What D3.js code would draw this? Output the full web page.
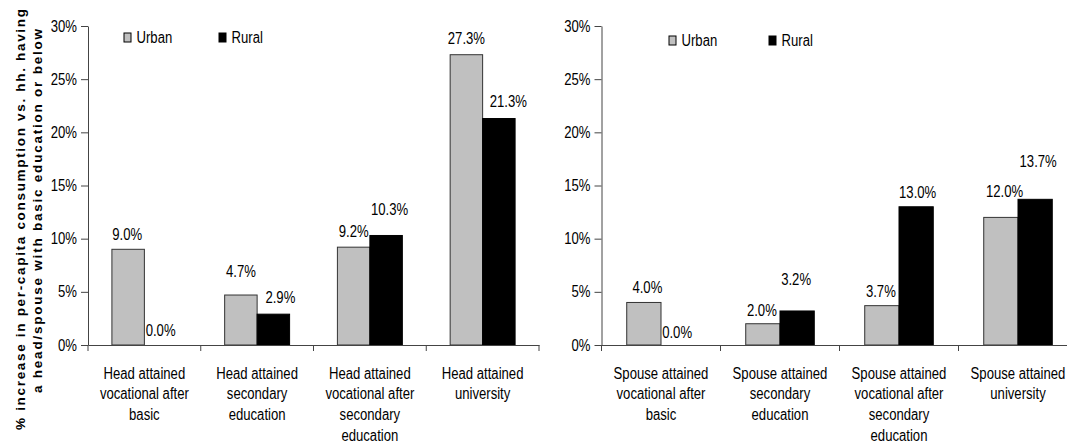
<!DOCTYPE html>
<html>
<head>
<meta charset="utf-8">
<script src="https://cdn.jsdelivr.net/npm/d3@7"></script>
<style>
  body { margin: 0; background: #fff; }
  svg { display: block; }
  text { font-family: "Liberation Sans", Arial, sans-serif; fill: #000; }
</style>
</head>
<body>
<svg id="chart"></svg>
<script>
// data
var series = ["Urban", "Rural"];
var headCats = [
  ["Head attained", "vocational after", "basic"],
  ["Head attained", "secondary", "education"],
  ["Head attained", "vocational after", "secondary", "education"],
  ["Head attained", "university"]
];
var spouseCats = [
  ["Spouse attained", "vocational after", "basic"],
  ["Spouse attained", "secondary", "education"],
  ["Spouse attained", "vocational after", "secondary", "education"],
  ["Spouse attained", "university"]
];
var headUrban = [9.0, 4.7, 9.2, 27.3];
var headRural = [0.0, 2.9, 10.3, 21.3];
var spouseUrban = [4.0, 2.0, 3.7, 12.0];
var spouseRural = [0.0, 3.2, 13.0, 13.7];
var yTicks = [0, 5, 10, 15, 20, 25, 30];
var yTitle = ["% increase in per-capita consumption vs. hh. having",
              "a head/spouse with basic education or below"];

// hand placed label nudges (dx, dy from bar centre / top), as in the original
var headUrbanNudge = [[-1, -9], [0, -18], [0, -10], [0, -11]];
var headRuralNudge = [[0, -9], [7, -11], [3.5, -20], [9.5, -12]];
var spouseUrbanNudge = [[3.5, -9], [-1, -8], [-1, -9], [3.7, -20]];
var spouseRuralNudge = [[-1, -7], [-1, -26], [1.5, -9], [3, -32]];

var screen = {width: 1067, height: 445};
var SX = 0.82; // the source chart is squeezed horizontally
var FS = 16;
var axisColor = "#444";

var svg = d3.select("#chart")
  .attr("width", screen.width)
  .attr("height", screen.height);

var yScale = d3.scaleLinear().domain([0, 30]).range([345, 26]);

var panels = [
  {left: 88, right: 539, cats: headCats, urban: headUrban, rural: headRural,
   un: headUrbanNudge, rn: headRuralNudge, legX: [124, 219], legY: 43},
  {left: 601.5, right: 1077.5, cats: spouseCats, urban: spouseUrban, rural: spouseRural,
   un: spouseUrbanNudge, rn: spouseRuralNudge, legX: [669, 769], legY: 46}
];

var cScale = d3.scaleOrdinal().domain(series).range(["#c0c0c0", "#000000"]);
var sScale = d3.scaleOrdinal().domain(series).range(["#333333", "#000000"]);

panels.forEach(function(p, pi) {
  var idx = d3.range(p.cats.length);
  var xBand = d3.scaleBand().domain(idx).range([p.left, p.right]).padding(0);
  var bw = xBand.bandwidth() * 0.288;
  var g = svg.append("g").attr("class", "panel" + pi);

  // y axis
  var yAxis = d3.axisLeft(yScale).tickValues(yTicks)
    .tickFormat(function(d) { return d + "%"; })
    .tickSize(7).tickSizeOuter(0).tickPadding(4);
  var ya = g.append("g")
    .attr("transform", "translate(" + p.left + ",0)")
    .call(yAxis);
  ya.select(".domain").attr("stroke", axisColor);
  ya.selectAll(".tick line").attr("stroke", axisColor);
  ya.selectAll(".tick text")
    .attr("font-size", FS)
    .attr("font-family", "Liberation Sans, Arial, sans-serif")
    .attr("x", -11 / SX)
    .attr("transform", "scale(" + SX + ",1)");

  // bars
  var rows = idx.map(function(i) {
    return [
      {s: "Urban", i: i, v: p.urban[i], n: p.un[i], x: xBand(i) + xBand.bandwidth() / 2 - bw},
      {s: "Rural", i: i, v: p.rural[i], n: p.rn[i], x: xBand(i) + xBand.bandwidth() / 2}
    ];
  });
  var bars = d3.merge(rows);

  g.selectAll("rect.bar")
    .data(bars.filter(function(d) { return d.v > 0; }))
    .enter()
    .append("rect")
    .attr("class", "bar")
    .attr("x", function(d) { return d.x; })
    .attr("y", function(d) { return yScale(d.v); })
    .attr("width", bw)
    .attr("height", function(d) { return yScale(0) - yScale(d.v); })
    .attr("fill", function(d) { return cScale(d.s); })
    .attr("stroke", function(d) { return sScale(d.s); })
    .attr("stroke-width", 1);

  // x axis line and category boundary ticks
  var xAxis = d3.axisBottom(xBand).tickSize(0).tickFormat("");
  var xa = g.append("g")
    .attr("transform", "translate(0," + yScale(0) + ")")
    .call(xAxis);
  xa.select(".domain").attr("stroke", axisColor);
  xa.selectAll(".tick").remove();
  g.selectAll("line.cattick")
    .data(idx.concat([idx.length]))
    .enter()
    .append("line")
    .attr("class", "cattick")
    .attr("x1", function(i) { return i < idx.length ? xBand(i) : p.right; })
    .attr("x2", function(i) { return i < idx.length ? xBand(i) : p.right; })
    .attr("y1", yScale(0))
    .attr("y2", yScale(0) + 6)
    .attr("stroke", axisColor);

  // category labels
  var cl = g.selectAll("text.cat")
    .data(idx)
    .enter()
    .append("text")
    .attr("class", "cat")
    .attr("text-anchor", "middle")
    .attr("font-size", FS)
    .attr("transform", function(i) {
      return "translate(" + (xBand(i) + xBand.bandwidth() / 2) + ",378.5) scale(" + SX + ",1)";
    });
  cl.selectAll("tspan")
    .data(function(i) { return p.cats[i]; })
    .enter()
    .append("tspan")
    .attr("x", 0)
    .attr("y", function(d, k) { return k * 21; })
    .text(function(d) { return d; });

  // value labels
  g.selectAll("text.val")
    .data(bars)
    .enter()
    .append("text")
    .attr("class", "val")
    .attr("text-anchor", "middle")
    .attr("font-size", FS)
    .attr("transform", function(d) {
      return "translate(" + (d.x + bw / 2 + d.n[0]) + "," + (yScale(d.v) + d.n[1]) + ") scale(" + SX + ",1)";
    })
    .text(function(d) { return d.v.toFixed(1) + "%"; });

  // legend
  var lg = g.selectAll("g.leg")
    .data(series)
    .enter()
    .append("g")
    .attr("class", "leg")
    .attr("transform", function(d, k) { return "translate(" + p.legX[k] + "," + p.legY + ")"; });
  lg.append("rect")
    .attr("x", 0).attr("y", -10)
    .attr("width", 7).attr("height", 9)
    .attr("fill", function(d) { return cScale(d); })
    .attr("stroke", "#000")
    .attr("stroke-width", 1);
  lg.append("text")
    .attr("font-size", FS)
    .attr("transform", "translate(12.5,0) scale(" + SX + ",1)")
    .text(function(d) { return d; });
});

// y axis title, two rotated bold lines
var titlePos = [{x: 25, y: 219.5, len: 421}, {x: 42, y: 211, len: 364}];
svg.selectAll("text.ytitle")
  .data(yTitle)
  .enter()
  .append("text")
  .attr("class", "ytitle")
  .attr("text-anchor", "middle")
  .attr("font-size", 13.5)
  .attr("font-weight", "bold")
  .attr("textLength", function(d, i) { return titlePos[i].len; })
  .attr("lengthAdjust", "spacing")
  .attr("transform", function(d, i) {
    return "translate(" + titlePos[i].x + "," + titlePos[i].y + ") rotate(-90)";
  })
  .text(function(d) { return d; });
</script>
</body>
</html>
